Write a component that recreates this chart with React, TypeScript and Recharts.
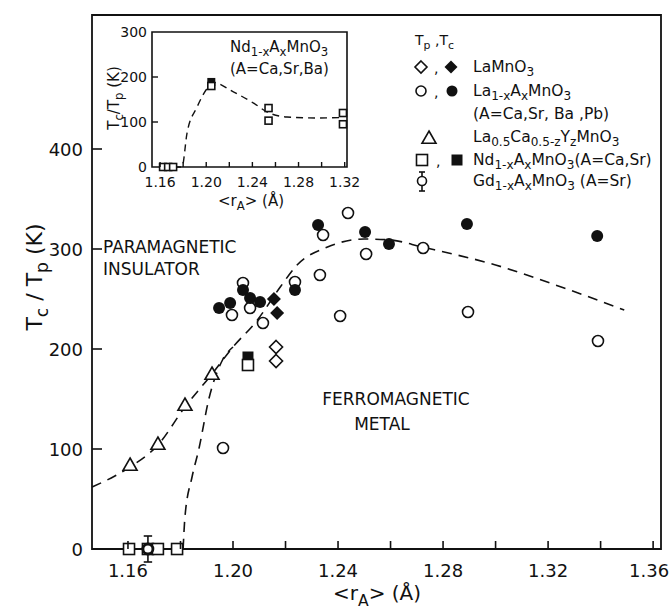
import React from "react";
import { ComposedChart, Scatter, Line, XAxis, YAxis, ReferenceArea, ReferenceLine } from "recharts";

const FONT = "'DejaVu Sans', sans-serif";
const INK = "#111";

// main panel: <rA> (Å) vs Tc/Tp (K)
const mainXTicks = [1.16, 1.18, 1.2, 1.22, 1.24, 1.26, 1.28, 1.3, 1.32, 1.34, 1.36];
const mainXLabels = [1.16, 1.2, 1.24, 1.28, 1.32, 1.36];
const mainYTicks = [0, 100, 200, 300, 400];

const laMnO3Tp = [{ r: 1.2164, t: 202 }, { r: 1.2164, t: 188 }];
const laMnO3Tc = [{ r: 1.2156, t: 250 }, { r: 1.2168, t: 236 }];
const laAMnO3Tp = [
  { r: 1.1962, t: 101 }, { r: 1.1996, t: 234 }, { r: 1.2038, t: 266 }, { r: 1.2065, t: 241 },
  { r: 1.2114, t: 226 }, { r: 1.2236, t: 267 }, { r: 1.2331, t: 274 }, { r: 1.2343, t: 314 },
  { r: 1.2408, t: 233 }, { r: 1.2438, t: 336 }, { r: 1.2507, t: 295 }, { r: 1.2724, t: 301 },
  { r: 1.2895, t: 237 }, { r: 1.339, t: 208 },
];
const laAMnO3Tc = [
  { r: 1.1947, t: 241 }, { r: 1.1989, t: 246 }, { r: 1.2038, t: 259 }, { r: 1.2065, t: 251 },
  { r: 1.2103, t: 247 }, { r: 1.2236, t: 259 }, { r: 1.2324, t: 324 }, { r: 1.2503, t: 317 },
  { r: 1.2594, t: 305 }, { r: 1.2891, t: 325 }, { r: 1.3387, t: 313 },
];
const laCaYMnO3Tp = [{ r: 1.1608, t: 84 }, { r: 1.1714, t: 105 }, { r: 1.1817, t: 144 }, { r: 1.192, t: 175 }];
const ndAMnO3Tc = [{ r: 1.2057, t: 192 }];
const ndAMnO3Tp = [
  { r: 1.2057, t: 184 }, { r: 1.1604, t: 0 }, { r: 1.1676, t: 0 }, { r: 1.1714, t: 0 }, { r: 1.1787, t: 0 },
];
const gdAMnO3Tp = [{ r: 1.1676, t: 0, err: 13 }];

const mainCurve = [
  { r: 1.1463, t: 62 }, { r: 1.155, t: 73 }, { r: 1.1608, t: 82 }, { r: 1.1714, t: 104 },
  { r: 1.1817, t: 142 }, { r: 1.192, t: 175 }, { r: 1.2, t: 202 }, { r: 1.209, t: 228 },
  { r: 1.218, t: 262 }, { r: 1.2244, t: 284 }, { r: 1.236, t: 302 }, { r: 1.25, t: 310 },
  { r: 1.26, t: 309 }, { r: 1.272, t: 302 }, { r: 1.3, t: 284 }, { r: 1.325, t: 262 }, { r: 1.349, t: 239 },
];
const ndCurve = [
  { r: 1.181, t: 0 }, { r: 1.1817, t: 32 }, { r: 1.1844, t: 72 }, { r: 1.187, t: 100 },
  { r: 1.1908, t: 150 }, { r: 1.196, t: 189 }, { r: 1.2, t: 202 },
];

// inset: Nd1-xAxMnO3 (A=Ca,Sr,Ba)
const insetXTicks = [1.16, 1.18, 1.2, 1.22, 1.24, 1.26, 1.28, 1.3, 1.32];
const insetXLabels = [1.16, 1.2, 1.24, 1.28, 1.32];
const insetYTicks = [0, 100, 200, 300];
const insetNdTp = [
  { r: 1.1626, t: 0 }, { r: 1.167, t: 0 }, { r: 1.1713, t: 0 }, { r: 1.2044, t: 180 },
  { r: 1.254, t: 131 }, { r: 1.254, t: 103 }, { r: 1.3185, t: 120 }, { r: 1.3185, t: 95 },
];
const insetNdTc = [{ r: 1.2044, t: 189 }];
const insetCurve = [
  { r: 1.172, t: 0 }, { r: 1.179, t: 0 }, { r: 1.1834, t: 76 }, { r: 1.192, t: 133 },
  { r: 1.2009, t: 175 }, { r: 1.206, t: 188 }, { r: 1.2235, t: 167 }, { r: 1.241, t: 142 },
  { r: 1.253, t: 122 }, { r: 1.27, t: 111 }, { r: 1.296, t: 109 }, { r: 1.3185, t: 110 },
];

const near = (list: number[], v: number) => list.some((d) => Math.abs(d - v) < 1e-6);

// marker shapes (sizes in `k`, so recharts' own props don't override them)
const OpenCircle = ({ cx, cy, k = 5.5 }: any) => (
  <circle cx={cx} cy={cy} r={k} fill="#fff" stroke={INK} strokeWidth={1.6} />
);
const FilledCircle = ({ cx, cy, k = 6 }: any) => <circle cx={cx} cy={cy} r={k} fill={INK} />;
const OpenDiamond = ({ cx, cy, k = 6.5 }: any) => (
  <path d={`M${cx},${cy - k}L${cx + k},${cy}L${cx},${cy + k}L${cx - k},${cy}Z`} fill="#fff" stroke={INK} strokeWidth={1.6} />
);
const FilledDiamond = ({ cx, cy, k = 7 }: any) => (
  <path d={`M${cx},${cy - k}L${cx + k},${cy}L${cx},${cy + k}L${cx - k},${cy}Z`} fill={INK} />
);
const OpenTriangle = ({ cx, cy, k = 7 }: any) => (
  <path d={`M${cx},${cy - k}L${cx + k},${cy + k * 0.75}L${cx - k},${cy + k * 0.75}Z`} fill="#fff" stroke={INK} strokeWidth={1.6} />
);
const OpenSquare = ({ cx, cy, k = 5.5 }: any) => (
  <rect x={cx - k} y={cy - k} width={2 * k} height={2 * k} fill="#fff" stroke={INK} strokeWidth={1.6} />
);
const FilledSquare = ({ cx, cy, k = 5.5 }: any) => (
  <rect x={cx - k} y={cy - k} width={2 * k} height={2 * k} fill={INK} />
);
const GdCircle = ({ cx, cy }: any) => (
  <circle cx={cx} cy={cy} r={5} fill="#fff" stroke={INK} strokeWidth={2.8} />
);

// text with subscripts: [text, isSub]
type Part = [string, number?];
function Rich({ x, y, parts, fs, anchor = "start", rotate }: { x: number; y: number; parts: Part[]; fs: number; anchor?: string; rotate?: number }) {
  let prev = 0;
  return (
    <text x={x} y={y} fontSize={fs} fontFamily={FONT} fill={INK} textAnchor={anchor as any}
      transform={rotate ? `rotate(${rotate},${x},${y})` : undefined}>
      {parts.map(([s, sub], i) => {
        const cur = sub ? 1 : 0;
        const dy = (cur - prev) * fs * 0.28;
        prev = cur;
        return (
          <tspan key={i} dy={dy} fontSize={cur ? fs * 0.78 : fs}>{s}</tspan>
        );
      })}
    </text>
  );
}

const MainXTick = (p: any) => {
  const v = p.payload.value;
  const last = Math.abs(v - 1.36) < 1e-6;
  return (
    <g>
      <line x1={p.x} x2={p.x} y1={p.y} y2={p.y - 8} stroke={INK} strokeWidth={1.6} />
      {near(mainXLabels, v) && (
        <text x={last ? p.x - 4 : p.x} y={p.y + 28} textAnchor="middle" fontSize={18} fontFamily={FONT} fill={INK}>{v.toFixed(2)}</text>
      )}
    </g>
  );
};
const MainYTick = (p: any) => {
  const v = p.payload.value;
  return (
    <g>
      {v > 0 && <line x1={p.x} x2={p.x + 10} y1={p.y} y2={p.y} stroke={INK} strokeWidth={1.6} />}
      <text x={p.x - 9} y={p.y + 6.5} textAnchor="end" fontSize={18} fontFamily={FONT} fill={INK}>{v}</text>
    </g>
  );
};
const InsetXTick = (p: any) => {
  const v = p.payload.value;
  return (
    <g>
      <line x1={p.x} x2={p.x} y1={p.y} y2={p.y - 5} stroke={INK} strokeWidth={1.4} />
      {near(insetXLabels, v) && (
        <text x={p.x} y={p.y + 20} textAnchor="middle" fontSize={14} fontFamily={FONT} fill={INK}>{v.toFixed(2)}</text>
      )}
    </g>
  );
};
const InsetYTick = (p: any) => {
  const v = p.payload.value;
  return (
    <g>
      {v > 0 && v < 300 && <line x1={p.x} x2={p.x + 6} y1={p.y} y2={p.y} stroke={INK} strokeWidth={1.4} />}
      <text x={p.x - 5} y={p.y + 5} textAnchor="end" fontSize={14} fontFamily={FONT} fill={INK}>{v}</text>
    </g>
  );
};

const MAIN_X: [number, number] = [1.1463, 1.363];
const MAIN_Y: [number, number] = [0, 534];
const INSET_X: [number, number] = [1.153, 1.322];
const INSET_Y: [number, number] = [0, 300];
const CAP = 0.0016; // half-width of the error bar caps, in Å

function MainChart() {
  return (
    <ComposedChart width={670} height={609} margin={{ top: 15, right: 9, bottom: 30, left: 32 }}>
      <XAxis type="number" dataKey="r" domain={MAIN_X} ticks={mainXTicks} interval={0}
        height={30} axisLine={false} tickLine={false} tickSize={0} tickMargin={0} tick={<MainXTick />} />
      <YAxis type="number" dataKey="t" domain={MAIN_Y} ticks={mainYTicks} interval={0}
        width={60} axisLine={false} tickLine={false} tickSize={0} tickMargin={0} tick={<MainYTick />} />
      <ReferenceArea x1={MAIN_X[0]} x2={MAIN_X[1]} y1={MAIN_Y[0]} y2={MAIN_Y[1]} fill="none" fillOpacity={0} stroke={INK} strokeWidth={1.8} />
      {/* Gd error bars as segments, so they neither widen the domain nor get clipped */}
      {gdAMnO3Tp.map((d, i) => (
        <ReferenceLine key={`v${i}`} ifOverflow="visible" stroke={INK} strokeWidth={1.6}
          segment={[{ x: d.r, y: d.t - d.err }, { x: d.r, y: d.t + d.err }]} />
      ))}
      {gdAMnO3Tp.map((d, i) => (
        <ReferenceLine key={`t${i}`} ifOverflow="visible" stroke={INK} strokeWidth={1.6}
          segment={[{ x: d.r - CAP, y: d.t + d.err }, { x: d.r + CAP, y: d.t + d.err }]} />
      ))}
      {gdAMnO3Tp.map((d, i) => (
        <ReferenceLine key={`b${i}`} ifOverflow="visible" stroke={INK} strokeWidth={1.6}
          segment={[{ x: d.r - CAP, y: d.t - d.err }, { x: d.r + CAP, y: d.t - d.err }]} />
      ))}
      <Line data={mainCurve} dataKey="t" type="monotone" stroke={INK} strokeWidth={1.6} strokeDasharray="10 7" dot={false} isAnimationActive={false} />
      <Line data={ndCurve} dataKey="t" type="monotone" stroke={INK} strokeWidth={1.6} strokeDasharray="10 7" dot={false} isAnimationActive={false} />
      <Scatter data={laMnO3Tp} shape={<OpenDiamond />} isAnimationActive={false} />
      <Scatter data={laMnO3Tc} shape={<FilledDiamond />} isAnimationActive={false} />
      <Scatter data={laAMnO3Tp} shape={<OpenCircle />} isAnimationActive={false} />
      <Scatter data={laAMnO3Tc} shape={<FilledCircle />} isAnimationActive={false} />
      <Scatter data={laCaYMnO3Tp} shape={<OpenTriangle />} isAnimationActive={false} />
      <Scatter data={ndAMnO3Tc} shape={<FilledSquare />} isAnimationActive={false} />
      <Scatter data={ndAMnO3Tp} shape={<OpenSquare />} isAnimationActive={false} />
      <Scatter data={gdAMnO3Tp} shape={<GdCircle />} isAnimationActive={false} />
    </ComposedChart>
  );
}

function InsetChart() {
  return (
    <ComposedChart width={360} height={215} margin={{ top: 32, right: 13, bottom: 18, left: 92 }}>
      <XAxis type="number" dataKey="r" domain={INSET_X} ticks={insetXTicks} interval={0}
        height={30} axisLine={false} tickLine={false} tickSize={0} tickMargin={0} tick={<InsetXTick />} />
      <YAxis type="number" dataKey="t" domain={INSET_Y} ticks={insetYTicks} interval={0}
        width={60} axisLine={false} tickLine={false} tickSize={0} tickMargin={0} tick={<InsetYTick />} />
      <ReferenceArea x1={INSET_X[0]} x2={INSET_X[1]} y1={INSET_Y[0]} y2={INSET_Y[1]} fill="none" fillOpacity={0} stroke={INK} strokeWidth={1.6} />
      <Line data={insetCurve} dataKey="t" type="monotone" stroke={INK} strokeWidth={1.4} strokeDasharray="7 5" dot={false} isAnimationActive={false} />
      <Scatter data={insetNdTc} shape={<FilledSquare k={4} />} isAnimationActive={false} />
      <Scatter data={insetNdTp} shape={<OpenSquare k={3.5} />} isAnimationActive={false} />
    </ComposedChart>
  );
}

function Annotations() {
  return (
    <svg width={670} height={609} style={{ position: "absolute", left: 0, top: 0, pointerEvents: "none" }}>
      <Rich x={42} y={277} fs={22} anchor="middle" rotate={-90} parts={[["T"], ["c", 1], [" / T"], ["p", 1], [" (K)"]]} />
      <Rich x={377} y={600} fs={20} anchor="middle" parts={[["<r"], ["A", 1], ["> (Å)"]]} />
      <Rich x={119} y={98} fs={15} anchor="middle" rotate={-90} parts={[["T"], ["c", 1], ["/T"], ["p", 1], [" (K)"]]} />
      <Rich x={251} y={206} fs={15} anchor="middle" parts={[["<r"], ["A", 1], ["> (Å)"]]} />
      <Rich x={230} y={52} fs={15} parts={[["Nd"], ["1-x", 1], ["A"], ["x", 1], ["MnO"], ["3", 1]]} />
      <Rich x={230} y={74} fs={15} parts={[["(A=Ca,Sr,Ba)"]]} />

      <text x={103} y={253} fontSize={17} fontFamily={FONT} fill={INK}>PARAMAGNETIC</text>
      <text x={103} y={275} fontSize={17} fontFamily={FONT} fill={INK}>INSULATOR</text>
      <text x={396} y={405} fontSize={17} fontFamily={FONT} fill={INK} textAnchor="middle">FERROMAGNETIC</text>
      <text x={382} y={430} fontSize={17} fontFamily={FONT} fill={INK} textAnchor="middle">METAL</text>

      <Rich x={415} y={45} fs={14} parts={[["T"], ["p", 1], [" ,T"], ["c", 1]]} />
      <OpenDiamond cx={421} cy={67} k={6} />
      <text x={434} y={73} fontSize={14} fontFamily={FONT} fill={INK}>,</text>
      <FilledDiamond cx={451} cy={67} k={6.5} />
      <Rich x={473} y={72} fs={15.5} parts={[["LaMnO"], ["3", 1]]} />
      <OpenCircle cx={421} cy={91} k={5} />
      <text x={434} y={97} fontSize={14} fontFamily={FONT} fill={INK}>,</text>
      <FilledCircle cx={452} cy={91} k={5.5} />
      <Rich x={473} y={96} fs={15.5} parts={[["La"], ["1-x", 1], ["A"], ["x", 1], ["MnO"], ["3", 1]]} />
      <Rich x={473} y={119} fs={15.5} parts={[["(A=Ca,Sr, Ba ,Pb)"]]} />
      <OpenTriangle cx={429} cy={138} k={7} />
      <Rich x={473} y={142} fs={15.5} parts={[["La"], ["0.5", 1], ["Ca"], ["0.5-z", 1], ["Y"], ["z", 1], ["MnO"], ["3", 1]]} />
      <OpenSquare cx={422} cy={160} k={5.5} />
      <text x={436} y={166} fontSize={14} fontFamily={FONT} fill={INK}>,</text>
      <FilledSquare cx={457} cy={160} k={5.5} />
      <Rich x={473} y={165} fs={15.5} parts={[["Nd"], ["1-x", 1], ["A"], ["x", 1], ["MnO"], ["3", 1], ["(A=Ca,Sr)"]]} />
      <line x1={422} x2={422} y1={172} y2={191} stroke={INK} strokeWidth={1.6} />
      <line x1={419} x2={425} y1={172} y2={172} stroke={INK} strokeWidth={1.6} />
      <line x1={419} x2={425} y1={191} y2={191} stroke={INK} strokeWidth={1.6} />
      <circle cx={422} cy={181} r={4.5} fill="#fff" stroke={INK} strokeWidth={1.6} />
      <Rich x={473} y={186} fs={15.5} parts={[["Gd"], ["1-x", 1], ["A"], ["x", 1], ["MnO"], ["3", 1], [" (A=Sr)"]]} />
    </svg>
  );
}

export default function App() {
  return (
    <div style={{ position: "relative", width: 670, height: 609, background: "#fff" }}>
      <style>{`body{margin:0}`}</style>
      <div style={{ position: "absolute", left: 0, top: 0 }}>
        <MainChart />
      </div>
      <div style={{ position: "absolute", left: 0, top: 0 }}>
        <InsetChart />
      </div>
      <Annotations />
    </div>
  );
}
